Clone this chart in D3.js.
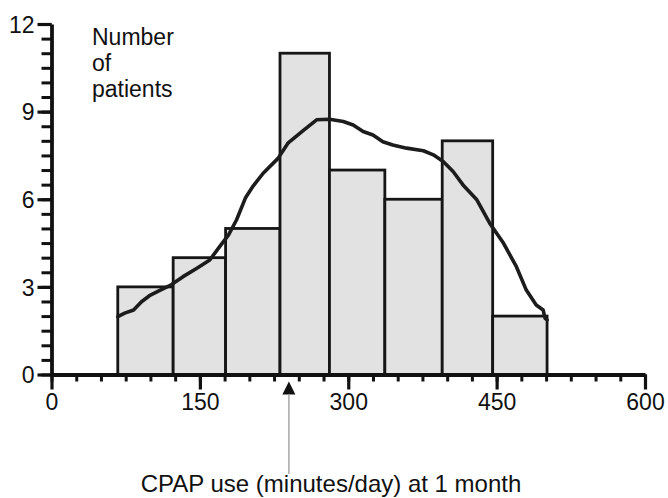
<!DOCTYPE html>
<html>
<head>
<meta charset="utf-8">
<script src="https://cdn.jsdelivr.net/npm/d3@7"></script>
<style>
  body { margin: 0; background: #fff; }
  text { font-family: "Liberation Sans", Arial, Helvetica, sans-serif; fill: #111; }
  .axis path, .axis line { stroke: #111; }
</style>
</head>
<body>
<div id="chart"></div>
<script>
// Histogram bins (minutes/day) and number of patients in each bin
let binEdges = [67, 123, 176, 231, 281, 337, 395, 446, 501];
let counts = [3, 4, 5, 11, 7, 6, 8, 2];

// Smoothed distribution line
let curveX = [67, 74, 83, 91, 100, 110, 121, 133, 147, 160, 170, 179, 187, 196, 204, 214,
  229, 239, 255, 268, 281, 295, 305, 315, 325, 335, 345, 359, 376, 386, 396, 406, 416,
  430, 443, 457, 470, 480, 490, 497, 499, 501];
let curveY = [1.98, 2.10, 2.21, 2.49, 2.72, 2.89, 3.07, 3.35, 3.64, 3.92, 4.38, 4.78, 5.29,
  6.04, 6.46, 6.89, 7.40, 7.92, 8.37, 8.72, 8.74, 8.66, 8.54, 8.32, 8.20, 7.97, 7.86, 7.75,
  7.66, 7.52, 7.29, 6.95, 6.49, 5.98, 5.18, 4.49, 3.69, 2.89, 2.38, 2.21, 1.92, 1.87];

let xTicks = [0, 150, 300, 450, 600];
let yTicks = [0, 3, 6, 9, 12];
let medianUse = 240;

let yLabel = ["Number", "of", "patients"];
let xLabel = "CPAP use (minutes/day) at 1 month";

///////////////////////////////////////////
//// Dimensions, scales and generators ////
///////////////////////////////////////////

let width = 668;
let height = 498;

let xPositionScale = d3.scaleLinear()
  .domain([0, 600])
  .range([51.5, 645]);

let yPositionScale = d3.scaleLinear()
  .domain([0, 12])
  .range([374.5, 24]);

let curvePoints = curveX.map((x, i) => ({ x: x, y: curveY[i] }));

let curveLine = d3.line()
  .x(d => xPositionScale(d.x))
  .y(d => yPositionScale(d.y));

let bins = counts.map((c, i) => ({ x0: binEdges[i], x1: binEdges[i + 1], count: c }));

//////////////////////////
/// Building the chart ///
//////////////////////////

let svg = d3.select("#chart")
  .append("svg")
  .attr("width", width)
  .attr("height", height);

// Bars
svg.append("g")
  .selectAll("rect")
  .data(bins)
  .enter().append("rect")
  .attr("x", d => xPositionScale(d.x0))
  .attr("y", d => yPositionScale(d.count))
  .attr("width", d => xPositionScale(d.x1) - xPositionScale(d.x0))
  .attr("height", d => yPositionScale(0) - yPositionScale(d.count))
  .attr("fill", "#e2e2e2")
  .attr("stroke", "#161616")
  .attr("stroke-width", 2.8);

// Distribution line
svg.append("path")
  .attr("d", curveLine(curvePoints))
  .attr("fill", "none")
  .attr("stroke", "#1c1c1c")
  .attr("stroke-width", 3.6)
  .attr("stroke-linejoin", "round")
  .attr("stroke-linecap", "round");

// Minor ticks first, then the axes with labels
let xMinor = d3.axisBottom(xPositionScale)
  .tickValues(d3.range(0, 601, 25))
  .tickSize(7)
  .tickFormat("");

svg.append("g")
  .attr("class", "axis")
  .attr("transform", "translate(0," + yPositionScale(0) + ")")
  .call(xMinor)
  .call(g => g.select(".domain").remove())
  .selectAll("line").attr("stroke-width", 3);

let xAxis = d3.axisBottom(xPositionScale)
  .tickValues(xTicks)
  .tickSize(15)
  .tickSizeOuter(0)
  .tickPadding(3);

svg.append("g")
  .attr("class", "axis x-axis")
  .attr("transform", "translate(0," + yPositionScale(0) + ")")
  .call(xAxis)
  .call(g => g.select(".domain").attr("stroke-width", 3.8))
  .call(g => g.selectAll("line").attr("stroke-width", 3.2))
  .call(g => g.selectAll("text").attr("font-size", 23).attr("fill", "#111"));

let yMinor = d3.axisLeft(yPositionScale)
  .tickValues(d3.range(0, 12.01, 0.5))
  .tickSize(10)
  .tickFormat("");

svg.append("g")
  .attr("class", "axis")
  .attr("transform", "translate(" + xPositionScale(0) + ",0)")
  .call(yMinor)
  .call(g => g.select(".domain").remove())
  .selectAll("line").attr("stroke-width", 3);

let yAxis = d3.axisLeft(yPositionScale)
  .tickValues(yTicks)
  .tickSize(14)
  .tickSizeOuter(0)
  .tickPadding(3);

svg.append("g")
  .attr("class", "axis y-axis")
  .attr("transform", "translate(" + xPositionScale(0) + ",0)")
  .call(yAxis)
  .call(g => g.select(".domain").attr("stroke-width", 3.8))
  .call(g => g.selectAll("line").attr("stroke-width", 3.2))
  .call(g => g.selectAll("text").attr("font-size", 23).attr("fill", "#111").attr("dy", "0.36em"));

// Pushes x labels slightly
d3.selectAll(".x-axis .tick text").attr("dy", "0.74em");

// Median arrow with a thin leader line down to the axis title
let ax = xPositionScale(medianUse);
let axisY = yPositionScale(0);

svg.append("path")
  .attr("d", "M" + ax + "," + (axisY + 7) + " L" + (ax + 6.5) + "," + (axisY + 20) + " L" + (ax - 6.5) + "," + (axisY + 20) + " Z")
  .attr("fill", "#111");

svg.append("line")
  .attr("x1", ax).attr("x2", ax)
  .attr("y1", axisY + 20).attr("y2", 474)
  .attr("stroke", "#a8a8a8")
  .attr("stroke-width", 1.5);

// Axis titles
svg.append("text")
  .attr("x", 331)
  .attr("y", 492)
  .attr("text-anchor", "middle")
  .attr("font-size", 24)
  .text(xLabel);

svg.append("g")
  .selectAll("text")
  .data(yLabel)
  .enter().append("text")
  .attr("x", 92)
  .attr("y", (d, i) => 45 + i * 26)
  .attr("font-size", 23)
  .text(d => d);
</script>
</body>
</html>
